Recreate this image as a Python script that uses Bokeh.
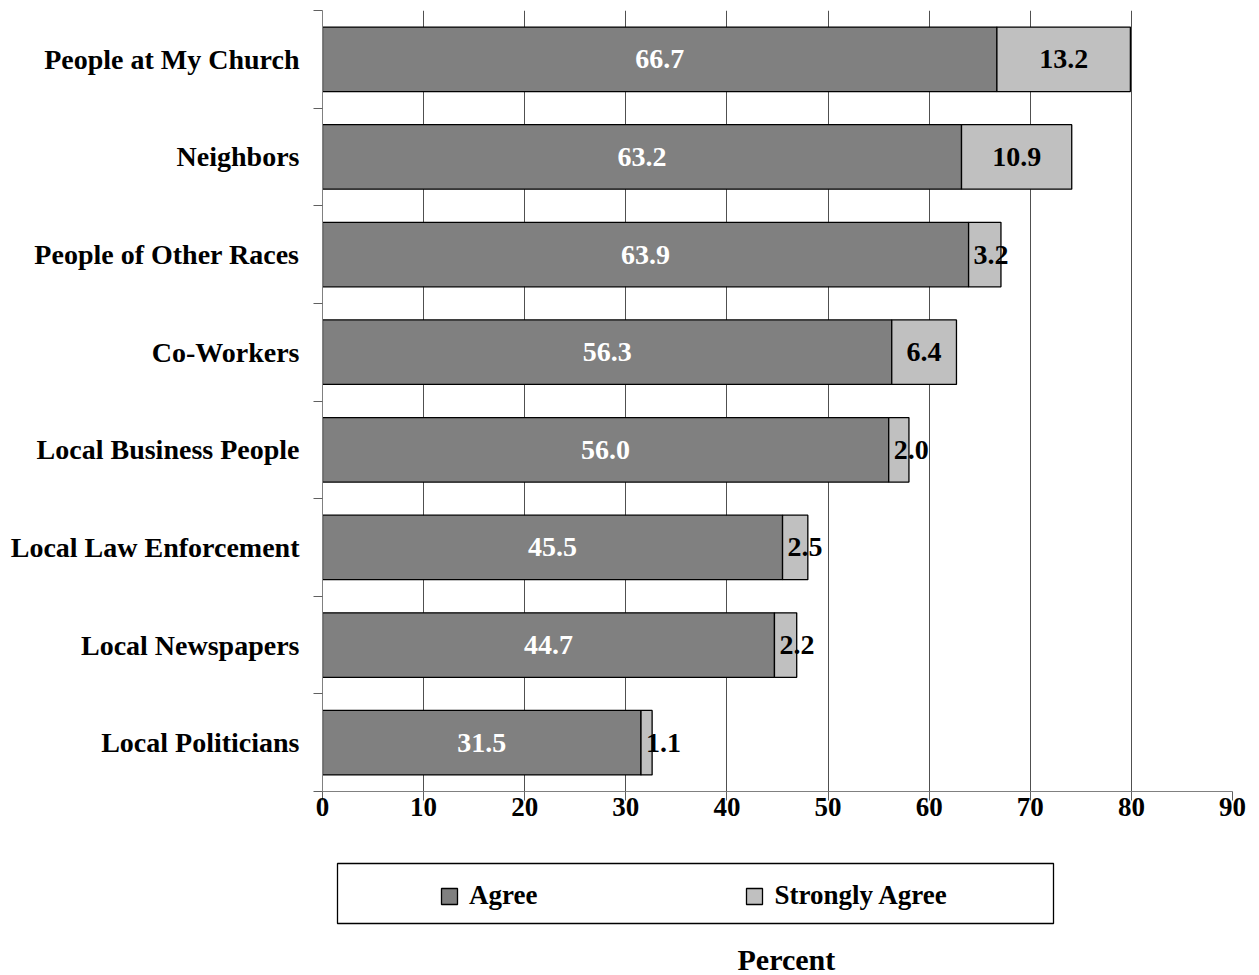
from bokeh.plotting import figure
from bokeh.layouts import column
from bokeh.models import (ColumnDataSource, FixedTicker, Range1d, Legend,
                          LegendItem, BoxAnnotation, Label)
from bokeh.embed import file_html
from bokeh.resources import INLINE
from bokeh.core.properties import value

# Survey results: share of respondents who trust each group
categories = ["People at My Church", "Neighbors", "People of Other Races",
              "Co-Workers", "Local Business People", "Local Law Enforcement",
              "Local Newspapers", "Local Politicians"]
agree = [66.7, 63.2, 63.9, 56.3, 56.0, 45.5, 44.7, 31.5]
strongly_agree = [13.2, 10.9, 3.2, 6.4, 2.0, 2.5, 2.2, 1.1]
x_ticks = [0, 10, 20, 30, 40, 50, 60, 70, 80, 90]
series_names = ["Agree", "Strongly Agree"]

FONT = "Liberation Serif"
AGREE_COLOR = "#808080"
STRONG_COLOR = "#C0C0C0"
LEFT, RIGHT = 322, 27          # frame borders shared by both panels

n = len(categories)
ypos = [n - 0.5 - i for i in range(n)]          # first category on top
totals = [a + s for a, s in zip(agree, strongly_agree)]

src = ColumnDataSource(dict(y=ypos, agree=agree, strong=strongly_agree,
                            total=totals))

p = figure(width=1259, height=845, x_range=Range1d(0, 90),
           y_range=Range1d(0, n), output_backend="svg",
           toolbar_location=None, min_border_left=LEFT, min_border_right=RIGHT,
           min_border_top=10, min_border_bottom=54)
p.outline_line_color = None

# stacked horizontal bars
bar_style = dict(height=0.66, line_color="black", line_width=1.3)
p.hbar(y="y", left=0, right="agree", source=src, fill_color=AGREE_COLOR,
       **bar_style)
p.hbar(y="y", left="agree", right="total", source=src,
       fill_color=STRONG_COLOR, **bar_style)

label_style = dict(text_font=value(FONT), text_font_style="bold",
                   text_font_size="28px", text_baseline="middle")

# value labels: white inside the Agree segment
p.text(x=[a / 2 for a in agree], y=ypos, text=[f"{a:.1f}" for a in agree],
       text_color="white", text_align="center", **label_style)

# Strongly Agree labels: centred when they fit, otherwise set just past the Agree end
wide = [i for i, s in enumerate(strongly_agree) if s >= 4]
narrow = [i for i, s in enumerate(strongly_agree) if s < 4]
p.text(x=[agree[i] + strongly_agree[i] / 2 for i in wide],
       y=[ypos[i] for i in wide],
       text=[f"{strongly_agree[i]:.1f}" for i in wide],
       text_color="black", text_align="center", **label_style)
p.text(x=[agree[i] for i in narrow], y=[ypos[i] for i in narrow],
       text=[f"{strongly_agree[i]:.1f}" for i in narrow], x_offset=5,
       text_color="black", text_align="left", **label_style)

# grid
p.ygrid.visible = False
p.xgrid.ticker = FixedTicker(ticks=x_ticks)
p.xgrid.grid_line_color = "#505050"
p.xgrid.grid_line_width = 1

# x axis
xa = p.xaxis[0]
xa.ticker = FixedTicker(ticks=x_ticks)
xa.axis_line_color = "#808080"
xa.major_tick_line_color = "#606060"
xa.major_tick_out = 9
xa.major_tick_in = 0
xa.minor_tick_line_color = None
xa.major_label_text_font = FONT
xa.major_label_text_font_style = "bold"
xa.major_label_text_font_size = "27px"
xa.major_label_text_color = "black"
xa.major_label_standoff = -3

# y axis: names at bar centres, tick marks between categories
ya = p.yaxis[0]
ya.ticker = FixedTicker(ticks=ypos, minor_ticks=list(range(n + 1)))
ya.major_label_overrides = {y: c for y, c in zip(ypos, categories)}
ya.axis_line_color = "#808080"
ya.major_tick_line_color = None
ya.major_tick_out = 0
ya.major_tick_in = 0
ya.minor_tick_line_color = "#606060"
ya.minor_tick_out = 9
ya.minor_tick_in = 0
ya.major_label_text_font = FONT
ya.major_label_text_font_style = "bold"
ya.major_label_text_font_size = "28px"
ya.major_label_text_color = "black"
ya.major_label_standoff = 14

# lower panel: framed legend and the axis title, laid out in pixel units
W, H = 1259 - LEFT - RIGHT, 130
leg = figure(width=1259, height=H, x_range=Range1d(0, W),
             y_range=Range1d(0, H), output_backend="svg",
             toolbar_location=None, x_axis_type=None, y_axis_type=None,
             min_border_left=LEFT, min_border_right=RIGHT,
             min_border_top=0, min_border_bottom=0)
leg.grid.visible = False
leg.outline_line_color = None

leg.add_layout(BoxAnnotation(left=15, right=731, bottom=52, top=112,
                             fill_color=None, line_color="black",
                             line_alpha=1.0, line_width=1.3))

# hidden copies of the two series supply the legend swatches
swatches = []
for name, color, right in zip(series_names, [AGREE_COLOR, STRONG_COLOR],
                              ["agree", "total"]):
    r = leg.hbar(y="y", left=0, right=right, source=src, visible=False,
                 fill_color=color, line_color="black", line_width=1.3,
                 height=0.66)
    swatches.append(LegendItem(label=name, renderers=[r]))

legend = Legend(items=swatches, orientation="horizontal", location=(117, 64),
                border_line_color=None, background_fill_alpha=0,
                inactive_fill_alpha=0, click_policy="none",
                padding=10, margin=0, spacing=207,
                glyph_width=20, glyph_height=20, label_standoff=10,
                label_text_font=FONT, label_text_font_style="bold",
                label_text_font_size="27px", label_text_color="black")
leg.add_layout(legend, "center")

leg.add_layout(Label(x=415, y=16, text="Percent", text_font=FONT,
                     text_font_style="bold", text_font_size="30px",
                     text_color="black", text_baseline="middle"))

open("out.html", "w").write(file_html(column(p, leg, spacing=0), INLINE))
